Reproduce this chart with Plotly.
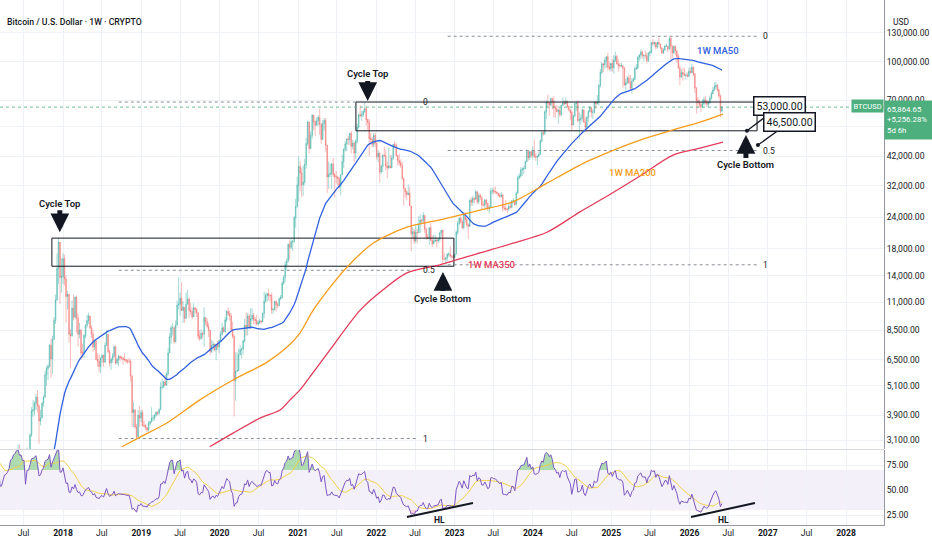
import numpy as np
import pandas as pd
import plotly.graph_objects as go

# ---------------- weekly BTCUSD data (week starts Monday) ----------------
FIRST_WEEK = "2016-09-05"
CLOSE = [
    608, 608, 603, 608,
    614, 640, 653, 700, 730,
    705, 740, 735, 752,
    770, 780, 890, 975,
    905, 830, 920, 915, 1010,
    1005, 1055, 1180, 1270,
    1230, 960, 960, 1080,
    1180, 1200, 1250, 1350,
    1700, 1760, 2050, 2200, 2520,
    2650, 2550, 2600, 2500,
    2500, 1930, 2740, 2750, 3250,
    4050, 4100, 4350, 4600,
    4250, 3700, 3800, 4350,
    4600, 5650, 5980, 6100, 7400,
    6550, 7800, 9300, 11200,
    15000, 19100, 13800, 13900,
    16400, 13600, 11600, 11800, 8200,
    8100, 10400, 9600, 11500,
    9500, 8200, 8500, 6900,
    6900, 8100, 8900, 9300, 9700,
    8700, 8200, 7300, 7700,
    6500, 6400, 6100, 6600,
    6750, 6350, 7400, 8200, 7000,
    6300, 6500, 6700, 7300,
    6300, 6500, 6700, 6600,
    6600, 6500, 6500, 6400, 6400,
    6400, 5600, 4000, 4100,
    3500, 3200, 3900, 3800, 4000,
    3550, 3550, 3480, 3410,
    3620, 3670, 3800, 3800,
    3900, 4000, 3970, 4100,
    5050, 5050, 5300, 5150, 5700,
    6900, 8000, 8700, 8700,
    7650, 8900, 10700, 10800,
    11400, 10200, 10500, 9500, 10800,
    11300, 10200, 10100, 9600,
    10450, 10300, 10000, 8050, 7880,
    8250, 8200, 9550, 9200,
    8800, 8500, 7000, 7400,
    7500, 7100, 7500, 7300, 7750,
    8200, 8700, 8400, 9350,
    10100, 9900, 9700, 8550,
    8040, 5360, 5830, 5880, 6780,
    7100, 7150, 7700, 8900,
    8750, 9700, 8700, 9450,
    9750, 9400, 9300, 9000, 9100,
    9250, 9200, 9950, 11100,
    11700, 11900, 11700, 11700, 10250,
    10300, 11100, 10750, 10680,
    11350, 11500, 13050, 13800,
    15500, 16050, 18700, 18200, 19150,
    19250, 23850, 26500, 32200,
    38200, 36000, 32300, 33100,
    38900, 47200, 57500, 45100,
    50900, 61200, 57400, 55800, 58000,
    59900, 56200, 49000, 56600,
    58200, 46400, 34700, 35600, 35800,
    39100, 35500, 34700, 34700,
    34200, 31800, 35400, 39900,
    44600, 47000, 49300, 48900, 51800,
    46000, 47300, 43200, 48200,
    54700, 61500, 60900, 61300,
    63300, 65000, 58700, 57300, 49400,
    48900, 46700, 50800, 47300,
    41800, 43100, 36300, 38200, 42400,
    42200, 38400, 37700, 38400,
    37800, 41300, 46800, 46400,
    42200, 40400, 39500, 38500,
    34300, 31300, 30300, 29500, 29900,
    26600, 20600, 21000, 19300,
    20900, 20800, 22600, 23300,
    23200, 24400, 21500, 20000, 19800,
    21800, 19400, 18800, 19300,
    19400, 19300, 19600, 20800, 21300,
    16300, 16300, 16500, 17100,
    17100, 16800, 16800, 16550,
    17100, 20900, 22700, 23800, 23000,
    21800, 24600, 23500, 22400,
    22100, 28000, 27500, 28500,
    28300, 30300, 27600, 29300,
    28900, 26900, 26800, 28100, 27200,
    25900, 26300, 30500, 30600,
    30300, 30300, 29900, 29300, 29000,
    29400, 26100, 26000, 25800,
    25800, 26500, 26300, 27900,
    27900, 26900, 29900, 34500, 35000,
    37000, 37400, 37500, 39900,
    43800, 41400, 43700, 42300,
    43900, 41700, 41600, 42000, 42600,
    48300, 52100, 51700, 63100,
    68900, 68400, 67200, 71300,
    69400, 65700, 64900, 63100, 64000,
    61500, 67000, 68500, 67800,
    69300, 66200, 64300, 62700,
    55900, 60800, 68200, 68200, 58200,
    58700, 59500, 64200, 57300,
    54800, 60000, 63300, 65600, 62800,
    62900, 69000, 67900, 68800,
    80400, 90600, 97900, 97200,
    101200, 104500, 95200, 93700, 98300,
    94500, 101300, 104700, 97700,
    96500, 96100, 96300, 94300,
    80700, 82600, 86100, 82300, 78300,
    83700, 85100, 93700, 94300,
    104100, 106400, 109000, 105600,
    105700, 105500, 100900, 108400, 109200,
    119000, 117900, 119400, 114200,
    119300, 117400, 113500, 108300,
    111100, 115300, 115300, 112200, 123500,
    115200, 108600, 114600, 110500,
    104700, 94200, 86800, 90400,
    89000, 88200, 88400, 87500, 91500,
    90500, 95000, 89000, 78500,
    70000, 68800, 67500, 66000,
    68000, 70500, 69000, 67500, 68500,
    71500, 74500, 77000, 79500,
    80500, 77000, 73000, 63500,
    65864.65,
]
HIGH = [
    615, 612, 612, 612,
    620, 642, 660, 705, 740,
    740, 750, 750, 760,
    780, 790, 900, 1000,
    1150, 920, 930, 930, 1020,
    1050, 1060, 1200, 1280,
    1290, 1260, 1100, 1140,
    1200, 1215, 1260, 1360,
    1750, 1820, 2100, 2760, 2580,
    2980, 2980, 2770, 2600,
    2630, 2550, 2900, 2800, 3300,
    4200, 4480, 4450, 4750,
    4900, 4300, 4100, 4400,
    4680, 5850, 6150, 6250, 7500,
    7900, 8100, 9600, 11800,
    17200, 19800, 19000, 16500,
    17200, 17000, 14000, 12200, 11900,
    8600, 11200, 11800, 11600,
    11700, 9900, 9100, 8600,
    7500, 8200, 9000, 9800, 9990,
    9700, 8900, 8500, 7800,
    7800, 6900, 6800, 6600,
    6800, 6800, 7600, 8500, 8200,
    7100, 6600, 6900, 7400,
    7400, 6600, 6800, 6750,
    6700, 6650, 6900, 6550, 6500,
    6600, 6500, 5600, 4400,
    4100, 3600, 4100, 4250, 4100,
    4100, 3700, 3600, 3500,
    3700, 3700, 4200, 3900,
    3950, 4050, 4050, 4150,
    5300, 5450, 5350, 5650, 5800,
    7200, 8300, 8900, 9100,
    8800, 9300, 11200, 13800,
    12000, 13200, 11100, 10200, 12000,
    12300, 11500, 10900, 10500,
    10900, 10500, 10400, 10000, 8500,
    8600, 8400, 10500, 9500,
    9500, 9100, 8450, 7800,
    7700, 7500, 7500, 7700, 7500,
    8450, 9100, 8800, 9600,
    10200, 10500, 10200, 9950,
    9200, 8200, 6950, 6950, 7200,
    7450, 7250, 7800, 9450,
    10000, 9950, 9900, 10400,
    10400, 9950, 9600, 9800, 9350,
    9450, 9350, 10000, 12100,
    11950, 12000, 12450, 11800, 12050,
    10400, 11100, 11200, 10950,
    11500, 11750, 13350, 14100,
    15950, 16450, 18900, 19450, 19900,
    19400, 24300, 28400, 34800,
    41900, 40100, 37850, 38500,
    40900, 49700, 58300, 57500,
    52600, 61800, 60700, 58700, 60000,
    61200, 64900, 57000, 58500,
    59600, 59600, 46600, 40000, 39200,
    39400, 41300, 36000, 36600,
    35100, 34700, 35400, 42600,
    45300, 48100, 49300, 50500, 52000,
    52900, 48800, 48000, 49200,
    56500, 62000, 67000, 63700,
    64300, 69000, 66300, 59300, 59000,
    51900, 50100, 51900, 52100,
    47600, 44400, 43500, 38900, 42600,
    45800, 44700, 40000, 45400,
    42600, 42400, 47000, 48200,
    47300, 42400, 42900, 40800,
    39900, 34300, 31300, 30600, 32300,
    31600, 26600, 21900, 21500,
    22500, 21600, 24200, 24600,
    23600, 25200, 24400, 21800, 20600,
    21800, 22700, 20300, 20400,
    20400, 19900, 19700, 21000, 21300,
    21400, 17200, 16700, 17200,
    17400, 18400, 16900, 16900,
    17200, 21200, 23300, 23900, 24200,
    23500, 25200, 25200, 23900,
    22600, 28400, 28800, 29200,
    28800, 31000, 30500, 30000,
    29800, 28000, 27700, 28400, 28400,
    27400, 26800, 31400, 31400,
    31500, 31800, 30300, 29900, 30000,
    30200, 29700, 26800, 28100,
    26100, 27400, 27400, 28000,
    28600, 27900, 30400, 35200, 35900,
    37900, 37900, 38400, 40200,
    44700, 44000, 44300, 44100,
    45900, 48900, 43100, 42200, 43800,
    48900, 52800, 52900, 64000,
    70100, 73800, 68700, 71800,
    71300, 72800, 66900, 67200, 64800,
    65500, 67500, 71900, 69900,
    71900, 70000, 66900, 63400,
    63700, 61400, 68400, 69400, 70000,
    62700, 61800, 65000, 64500,
    59800, 60600, 64100, 66500, 64500,
    64400, 69400, 69500, 73600,
    81500, 93500, 99600, 98900,
    103900, 105200, 108300, 99900, 98900,
    102700, 106400, 109600, 106400,
    102500, 98800, 99500, 96500,
    95000, 85300, 87400, 88800, 88500,
    86000, 86500, 95700, 97900,
    104900, 105800, 111900, 110700,
    106800, 110500, 108900, 108500, 110500,
    119500, 123200, 120200, 119300,
    119300, 124500, 117600, 113500,
    113400, 116800, 117900, 113300, 125700,
    126200, 116000, 115900, 116400,
    110700, 107500, 96600, 93100,
    94100, 94600, 90300, 90600, 94800,
    94500, 97900, 95500, 90000,
    79000, 72000, 70500, 69000,
    71000, 72500, 73000, 70500, 70000,
    73000, 76000, 79000, 82500,
    83000, 81500, 78000, 74000,
    66500,
]
LOW = [
    600, 598, 595, 597,
    605, 608, 635, 650, 690,
    690, 700, 720, 725,
    745, 760, 780, 885,
    890, 750, 820, 890, 910,
    990, 980, 1040, 1170,
    1100, 950, 890, 950,
    1070, 1150, 1170, 1240,
    1350, 1620, 1680, 1900, 2150,
    2500, 2150, 2450, 2270,
    2500, 1850, 1900, 2550, 2680,
    3200, 3850, 3900, 4100,
    4000, 3000, 3550, 3800,
    4200, 4600, 5120, 5400, 6040,
    5500, 5700, 7900, 9000,
    11200, 13000, 10800, 12000,
    13000, 12800, 9100, 10300, 7600,
    6000, 8000, 9300, 9400,
    8300, 7300, 7900, 6500,
    6600, 6600, 7900, 8700, 9000,
    8600, 7900, 7000, 7100,
    6500, 6100, 5800, 5750,
    6300, 6100, 6300, 7400, 6900,
    6100, 5900, 6300, 6600,
    6200, 6200, 6100, 6400,
    6500, 6200, 6400, 6300, 6250,
    6300, 5300, 3500, 3500,
    3450, 3150, 3200, 3500, 3650,
    3500, 3480, 3400, 3350,
    3350, 3550, 3650, 3700,
    3700, 3850, 3900, 3900,
    4100, 4950, 5000, 5100, 5100,
    5600, 6900, 7500, 8100,
    7500, 7600, 8900, 10300,
    9700, 10400, 9100, 9100, 9400,
    10800, 9500, 9800, 9400,
    9600, 9900, 9600, 7800, 7700,
    7800, 7900, 7300, 8900,
    8700, 8000, 6800, 6900,
    7100, 7000, 6450, 7100, 6900,
    7700, 8100, 8300, 8300,
    9150, 9700, 9300, 8500,
    7900, 3850, 4450, 5850, 5900,
    6800, 6550, 6800, 7600,
    8100, 8100, 8700, 8600,
    9250, 9000, 8950, 8900, 8900,
    9050, 9000, 9150, 9500,
    11000, 11100, 11200, 11100, 9900,
    9900, 10200, 10100, 10400,
    10550, 11200, 11350, 12900,
    13200, 14800, 15800, 16200, 17900,
    17600, 18900, 21800, 26100,
    27700, 30400, 28900, 29200,
    32300, 37400, 46200, 43000,
    44900, 49300, 53200, 50400, 55500,
    55500, 51000, 47000, 48800,
    53000, 43800, 30000, 31100, 34700,
    31000, 34800, 28800, 32700,
    32100, 31100, 29300, 36000,
    37700, 43800, 43900, 46500, 46500,
    43000, 44700, 39800, 40800,
    47100, 54100, 59800, 58100,
    60100, 62500, 55600, 53500, 42000,
    47100, 45500, 45600, 45700,
    40700, 39700, 33000, 35600, 36300,
    41800, 37000, 34300, 37200,
    37600, 37600, 40500, 45200,
    42000, 38600, 38500, 37600,
    33700, 26700, 28700, 28000, 29300,
    26600, 17600, 19700, 18800,
    19000, 18900, 20800, 20700,
    22500, 22700, 20800, 19500, 19600,
    18600, 19300, 18200, 18900,
    19100, 18200, 18900, 19200, 20100,
    15600, 16200, 15500, 16000,
    16700, 16500, 16300, 16400,
    16600, 17200, 20400, 22300, 22600,
    21500, 21400, 22800, 21900,
    19600, 21900, 26600, 26600,
    27300, 28200, 27100, 27000,
    28100, 25800, 26500, 25900, 25900,
    25400, 24800, 26300, 29600,
    29700, 29700, 29600, 29000, 28600,
    28700, 25200, 25600, 25400,
    24900, 25400, 26000, 26000,
    27200, 26600, 26800, 29800, 33900,
    34500, 35000, 35700, 37200,
    39800, 40300, 40500, 41500,
    40800, 41500, 40300, 38500, 41700,
    42500, 47700, 50600, 50900,
    59000, 65600, 60800, 66300,
    64500, 60000, 59600, 62800, 56500,
    60200, 60700, 66600, 67100,
    68100, 65100, 63300, 58400,
    53500, 55800, 59900, 63500, 57200,
    49000, 56100, 57800, 57200,
    52500, 54600, 57500, 62700, 59900,
    58900, 62000, 65000, 67400,
    66800, 78900, 89300, 90800,
    93600, 94300, 92200, 92200, 91300,
    91200, 89300, 99500, 97700,
    91200, 94100, 95000, 78200,
    80000, 76600, 81200, 81600, 77100,
    74500, 83000, 84500, 92800,
    93300, 100700, 102000, 103100,
    100400, 102700, 98200, 99600, 105100,
    107400, 115700, 114700, 112000,
    112700, 116900, 111700, 107300,
    107300, 110600, 114600, 108700, 111600,
    102000, 103500, 106700, 106300,
    98900, 93900, 80600, 86200,
    84000, 87500, 84500, 86500, 86800,
    89500, 90000, 87500, 75000,
    62000, 65000, 65500, 63000,
    65500, 67000, 67500, 66000, 65500,
    68000, 70500, 74000, 76500,
    78000, 76000, 71500, 60000,
    62800,
]

# long moving averages (need history before the data above)
MA200_DATES = ["2018-10-03", "2018-12-26", "2019-04-30", "2019-10-01", "2020-03-04",
               "2020-08-10", "2020-11-11", "2021-01-10", "2021-03-12", "2021-05-30",
               "2021-08-18", "2021-12-17", "2022-05-24", "2022-10-25", "2023-04-30",
               "2023-09-30", "2024-03-07", "2024-08-08", "2024-09-24", "2025-05-15",
               "2025-10-16", "2026-02-19", "2026-06-06"]
MA200_VALUES = [2920, 3190, 3630, 4490, 5390, 6350, 7290, 8290, 10200, 12600,
                15200, 18900, 21900, 23400, 25600, 27600, 32800, 38700, 40500, 48700,
                53400, 57400, 61800]
MA350_DATES = ["2019-11-16", "2020-03-04", "2020-07-08", "2020-10-09", "2020-11-25",
               "2021-01-10", "2021-02-15", "2021-05-30", "2021-10-17", "2022-01-31",
               "2022-05-24", "2022-10-25", "2023-04-30", "2023-09-30", "2024-03-07",
               "2024-08-08", "2024-12-27", "2025-05-15", "2025-10-16", "2026-02-19",
               "2026-06-06"]
MA350_VALUES = [2920, 3310, 3800, 4090, 4490, 4920, 5390, 7100, 10200, 12300,
                14400, 15500, 17300, 18900, 20900, 25200, 29600, 35000, 42400, 45200,
                47800]

# axes
X_RANGE = ["2017-03-13", "2028-06-26"]
X_TICK_DATES = ["2017-07-01", "2018-01-01", "2018-07-01", "2019-01-01", "2019-07-01",
                "2020-01-01", "2020-07-01", "2021-01-01", "2021-07-01", "2022-01-01",
                "2022-07-01", "2023-01-01", "2023-07-01", "2024-01-01", "2024-07-01",
                "2025-01-01", "2025-07-01", "2026-01-01", "2026-07-01", "2027-01-01",
                "2027-07-01", "2028-01-01", "2028-07-01"]
X_TICK_TEXT = ["Jul", "<b>2018</b>", "Jul", "<b>2019</b>", "Jul", "<b>2020</b>", "Jul",
               "<b>2021</b>", "Jul", "<b>2022</b>", "Jul", "<b>2023</b>", "Jul",
               "<b>2024</b>", "Jul", "<b>2025</b>", "Jul", "<b>2026</b>", "Jul",
               "<b>2027</b>", "Jul", "<b>2028</b>", "Jul"]
PRICE_TICKS = [3100, 3900, 5100, 6500, 8500, 11000, 14000, 18000, 24000, 32000,
               42000, 55000, 70000, 100000, 130000]
PRICE_TICK_HIDDEN = [55000]   # tick under the last-price label
PRICE_RANGE_LOG = [3.4565, 5.2454]
RSI_TICKS = [25, 50, 75]
RSI_RANGE = [15, 90]

# drawings
BOX_LEFT_DATES = ["2017-11-10", "2022-12-29"]
BOX_LEFT_PRICES = [15300, 19800]
BOX_RIGHT_DATES = ["2021-09-28", "2026-11-12"]
BOX_RIGHT_PRICES = [53000, 69000]
FIB_LABELS = ["0", "0.5", "1"]
FIB_LEFT_DATES = ["2018-09-18", "2022-07-14"]
FIB_LEFT_LEVELS = [69000, 14740, 3150]
FIB_RIGHT_DATES = ["2022-11-30", "2026-11-16"]
FIB_RIGHT_LEVELS = [126200, 44230, 15500]
TARGET_DATES = ["2026-09-26", "2026-11-16"]
TARGET_PRICES = [53000, 46500]
HL_DATES = [["2022-05-24", "2023-03-28"], ["2026-01-08", "2026-11-02"]]
HL_RSI = [[23, 37], [23, 37]]
HL_LABEL_DATES = ["2022-10-25", "2026-06-10"]
LAST_PRICE = 65864.65

# ---------------- derived series ----------------
n = min(len(CLOSE), len(HIGH), len(LOW))
dates = pd.date_range(FIRST_WEEK, periods=n, freq="W-MON")
c = pd.Series(CLOSE[:n], index=dates, dtype=float)
o = c.shift(1).fillna(c.iloc[0])
h = np.maximum.reduce([np.array(HIGH[:n], float), o.values, c.values])
l = np.minimum.reduce([np.array(LOW[:n], float), o.values, c.values])
ma50 = c.rolling(50).mean()
delta = c.diff()
gain = delta.clip(lower=0)
loss = (-delta).clip(lower=0)
ag = gain.ewm(alpha=1 / 14, adjust=False).mean()
al = loss.ewm(alpha=1 / 14, adjust=False).mean()
rsi = 100 - 100 / (1 + ag / al)
rsi_ma = rsi.rolling(14).mean()

# ---------------- figure ----------------
INK = "#131722"
GRID = "#eef1f6"
AXLINE = "#9598a1"
UP = "rgba(38,166,154,0.42)"
DN = "rgba(239,83,80,0.40)"
BLUE = "#3060e0"
ORANGE = "#f59d1a"
RED = "#e33a5a"
GREEN_LBL = "#4caf7d"
FONT = "Roboto"
XD = [0, 884 / 932]

fig = go.Figure()

# drawings below candles
bx = [BOX_LEFT_DATES[0], BOX_LEFT_DATES[1], BOX_LEFT_DATES[1], BOX_LEFT_DATES[0], BOX_LEFT_DATES[0]]
by = [BOX_LEFT_PRICES[0], BOX_LEFT_PRICES[0], BOX_LEFT_PRICES[1], BOX_LEFT_PRICES[1], BOX_LEFT_PRICES[0]]
fig.add_trace(go.Scatter(x=bx, y=by, mode="lines", line=dict(color=INK, width=1), hoverinfo="skip"))
bx = [BOX_RIGHT_DATES[0], BOX_RIGHT_DATES[1], BOX_RIGHT_DATES[1], BOX_RIGHT_DATES[0], BOX_RIGHT_DATES[0]]
by = [BOX_RIGHT_PRICES[0], BOX_RIGHT_PRICES[0], BOX_RIGHT_PRICES[1], BOX_RIGHT_PRICES[1], BOX_RIGHT_PRICES[0]]
fig.add_trace(go.Scatter(x=bx, y=by, mode="lines", line=dict(color=INK, width=1), hoverinfo="skip"))

for dts, lev in ((FIB_LEFT_DATES, FIB_LEFT_LEVELS), (FIB_RIGHT_DATES, FIB_RIGHT_LEVELS)):
    for v in lev:
        fig.add_trace(go.Scatter(x=dts, y=[v, v], mode="lines",
                                 line=dict(color="#8a8d96", width=1, dash="dot"), hoverinfo="skip"))

fig.add_trace(go.Scatter(x=X_RANGE, y=[LAST_PRICE, LAST_PRICE], mode="lines",
                         line=dict(color="rgba(76,175,120,0.8)", width=1, dash="dot"), hoverinfo="skip"))

fig.add_trace(go.Candlestick(
    x=dates, open=o.values, high=h, low=l, close=c.values,
    increasing=dict(line=dict(color=UP, width=1), fillcolor=UP),
    decreasing=dict(line=dict(color=DN, width=1), fillcolor=DN),
    whiskerwidth=0, hoverinfo="skip"))

fig.add_trace(go.Scatter(x=dates, y=ma50.values, mode="lines", line=dict(color=BLUE, width=1.3), hoverinfo="skip"))
fig.add_trace(go.Scatter(x=MA200_DATES, y=MA200_VALUES, mode="lines",
                         line=dict(color=ORANGE, width=1.3, shape="spline", smoothing=0.8), hoverinfo="skip"))
fig.add_trace(go.Scatter(x=MA350_DATES, y=MA350_VALUES, mode="lines",
                         line=dict(color=RED, width=1.3, shape="spline", smoothing=0.8), hoverinfo="skip"))
fig.add_trace(go.Scatter(x=TARGET_DATES, y=TARGET_PRICES, mode="markers",
                         marker=dict(color=INK, size=4), hoverinfo="skip"))

# RSI pane
fig.add_shape(type="rect", xref="x2 domain", yref="y2", x0=0, x1=1, y0=30, y1=70,
              fillcolor="rgba(126,87,194,0.09)", line=dict(width=0), layer="below")
base70 = np.where(rsi.notna(), 70.0, np.nan)
base30 = np.where(rsi.notna(), 30.0, np.nan)
fig.add_trace(go.Scatter(x=dates, y=base70, xaxis="x2", yaxis="y2", mode="lines",
                         line=dict(width=0), hoverinfo="skip"))
fig.add_trace(go.Scatter(x=dates, y=np.maximum(rsi.values, 70), xaxis="x2", yaxis="y2", mode="lines",
                         line=dict(width=0), fill="tonexty", fillcolor="rgba(76,175,80,0.45)", hoverinfo="skip"))
fig.add_trace(go.Scatter(x=dates, y=base30, xaxis="x2", yaxis="y2", mode="lines",
                         line=dict(width=0), hoverinfo="skip"))
fig.add_trace(go.Scatter(x=dates, y=np.minimum(rsi.values, 30), xaxis="x2", yaxis="y2", mode="lines",
                         line=dict(width=0), fill="tonexty", fillcolor="rgba(239,83,80,0.25)", hoverinfo="skip"))
fig.add_trace(go.Scatter(x=dates, y=rsi_ma.values, xaxis="x2", yaxis="y2", mode="lines",
                         line=dict(color="#f2d24a", width=1), hoverinfo="skip"))
fig.add_trace(go.Scatter(x=dates, y=rsi.values, xaxis="x2", yaxis="y2", mode="lines",
                         line=dict(color="#7e57c2", width=1), hoverinfo="skip"))
for dts, vals in zip(HL_DATES, HL_RSI):
    fig.add_trace(go.Scatter(x=dts, y=vals, xaxis="x2", yaxis="y2", mode="lines",
                             line=dict(color=INK, width=2), hoverinfo="skip"))

# ---------------- annotations ----------------
ann = []
def txt(x, y, s, color=INK, size=9, xref="x", yref="y", weight=400, **kw):
    d = dict(x=x, y=y, xref=xref, yref=yref, text=s, showarrow=False,
             font=dict(family=FONT, size=size, color=color, weight=weight))
    d.update(kw)
    ann.append(d)

def arrow_label(date, price, s, ay):
    ann.append(dict(x=date, y=np.log10(price), xref="x", yref="y", text=s, showarrow=True,
                    ax=0, ay=ay, arrowhead=2, arrowsize=0.75, arrowwidth=5, arrowcolor=INK,
                    standoff=0, startstandoff=0,
                    font=dict(family=FONT, size=9.5, color=INK, weight=600)))

arrow_label("2017-12-17", 20900, "Cycle Top", -29)
arrow_label("2021-11-22", 69700, "Cycle Top", -27)
arrow_label("2022-11-08", 14500, "Cycle Bottom", 26)
arrow_label("2026-09-21", 51000, "Cycle Bottom", 30)

txt("2026-05-14", np.log10(111200), "1W MA50", color=BLUE, size=9.5, weight=500)
txt("2025-04-12", np.log10(36200), "1W MA200", color=ORANGE, size=9.5, weight=500)
txt("2023-06-24", np.log10(15500), "1W MA350", color=RED, size=9.5, weight=500)

for dts, lev in ((FIB_LEFT_DATES, FIB_LEFT_LEVELS), (FIB_RIGHT_DATES, FIB_RIGHT_LEVELS)):
    lab_date = pd.Timestamp(dts[1]) + pd.Timedelta(days=14)
    for v, s in zip(lev, FIB_LABELS):
        txt(lab_date, np.log10(v), s, size=8.5, xanchor="left")

for d, p, (axp, ayp) in zip(TARGET_DATES, TARGET_PRICES, [(33, -25), (32, -23)]):
    ann.append(dict(x=d, y=np.log10(p), xref="x", yref="y", text=f"{p:,.2f}", showarrow=True,
                    ax=axp, ay=ayp, arrowhead=0, arrowwidth=1.3, arrowcolor=INK, standoff=0,
                    bgcolor="white", bordercolor=INK, borderwidth=1.5, borderpad=2,
                    font=dict(family=FONT, size=10.5, color=INK)))

for d in HL_LABEL_DATES:
    txt(d, 20.5, "HL", size=8.5, xref="x2", yref="y2", weight=700)

# header / axis labels
txt(5 / 932, 1 - 15 / 550, "Bitcoin / U.S. Dollar · 1W · CRYPTO", xref="paper", yref="paper",
    size=8.7, xanchor="left", weight=500)
txt(891 / 932, 1 - 15 / 550, "USD", xref="paper", yref="paper", size=8.5, xanchor="left")
ann.append(dict(x=884 / 932, y=1 - 100 / 550, xref="paper", yref="paper", xanchor="left", yanchor="top",
                text=f"{LAST_PRICE:,.2f}<br>+5,256.28%<br>5d 6h", showarrow=False, align="left",
                bgcolor=GREEN_LBL, borderpad=2, width=44, height=34,
                font=dict(family=FONT, size=7.8, color="white")))
ann.append(dict(x=884 / 932, y=1 - 106.5 / 550, xref="paper", yref="paper", xanchor="right", yanchor="middle",
                text="BTCUSD", showarrow=False, bgcolor=GREEN_LBL, borderpad=1.5,
                font=dict(family=FONT, size=7.5, color="white")))

fig.update_layout(
    width=932, height=550, margin=dict(l=0, r=0, t=0, b=0, autoexpand=False),
    paper_bgcolor="white", plot_bgcolor="white", showlegend=False, hovermode=False,
    annotations=ann,
    xaxis=dict(domain=XD, anchor="y", range=X_RANGE, tickvals=X_TICK_DATES, showticklabels=False,
               showgrid=True, gridcolor=GRID, zeroline=False, rangeslider=dict(visible=False), ticks="",
               automargin=False),
    yaxis=dict(domain=[101 / 550, 1], type="log", range=PRICE_RANGE_LOG, side="right",
               tickvals=PRICE_TICKS,
               ticktext=["" if v in PRICE_TICK_HIDDEN else f"{v:,.2f}" for v in PRICE_TICKS],
               showgrid=True, gridcolor=GRID, zeroline=False, ticks="", automargin=False,
               showline=True, linecolor=AXLINE, linewidth=1,
               tickfont=dict(family=FONT, size=8.6, color=INK)),
    xaxis2=dict(domain=XD, anchor="y2", matches="x", range=X_RANGE, tickvals=X_TICK_DATES,
                ticktext=X_TICK_TEXT, showgrid=True, gridcolor=GRID, zeroline=False, ticks="",
                showline=True, linecolor=AXLINE, linewidth=1, automargin=False,
                tickfont=dict(family=FONT, size=8.6, color=INK)),
    yaxis2=dict(domain=[25 / 550, 100 / 550], range=RSI_RANGE, side="right", anchor="x2",
                tickvals=RSI_TICKS, ticktext=[f"{v:.2f}" for v in RSI_TICKS],
                showgrid=True, gridcolor=GRID, zeroline=False, ticks="", automargin=False,
                showline=True, linecolor=AXLINE, linewidth=1,
                tickfont=dict(family=FONT, size=8.6, color=INK)),
)
fig.add_shape(type="line", xref="paper", yref="paper", x0=0, x1=XD[1], y0=1 - 449.5 / 550, y1=1 - 449.5 / 550,
              line=dict(color="#d6d9e0", width=1))

fig.write_html("out.html", config={"displayModeBar": False},
               post_script="document.body.style.margin='0';document.body.style.overflow='hidden';")
